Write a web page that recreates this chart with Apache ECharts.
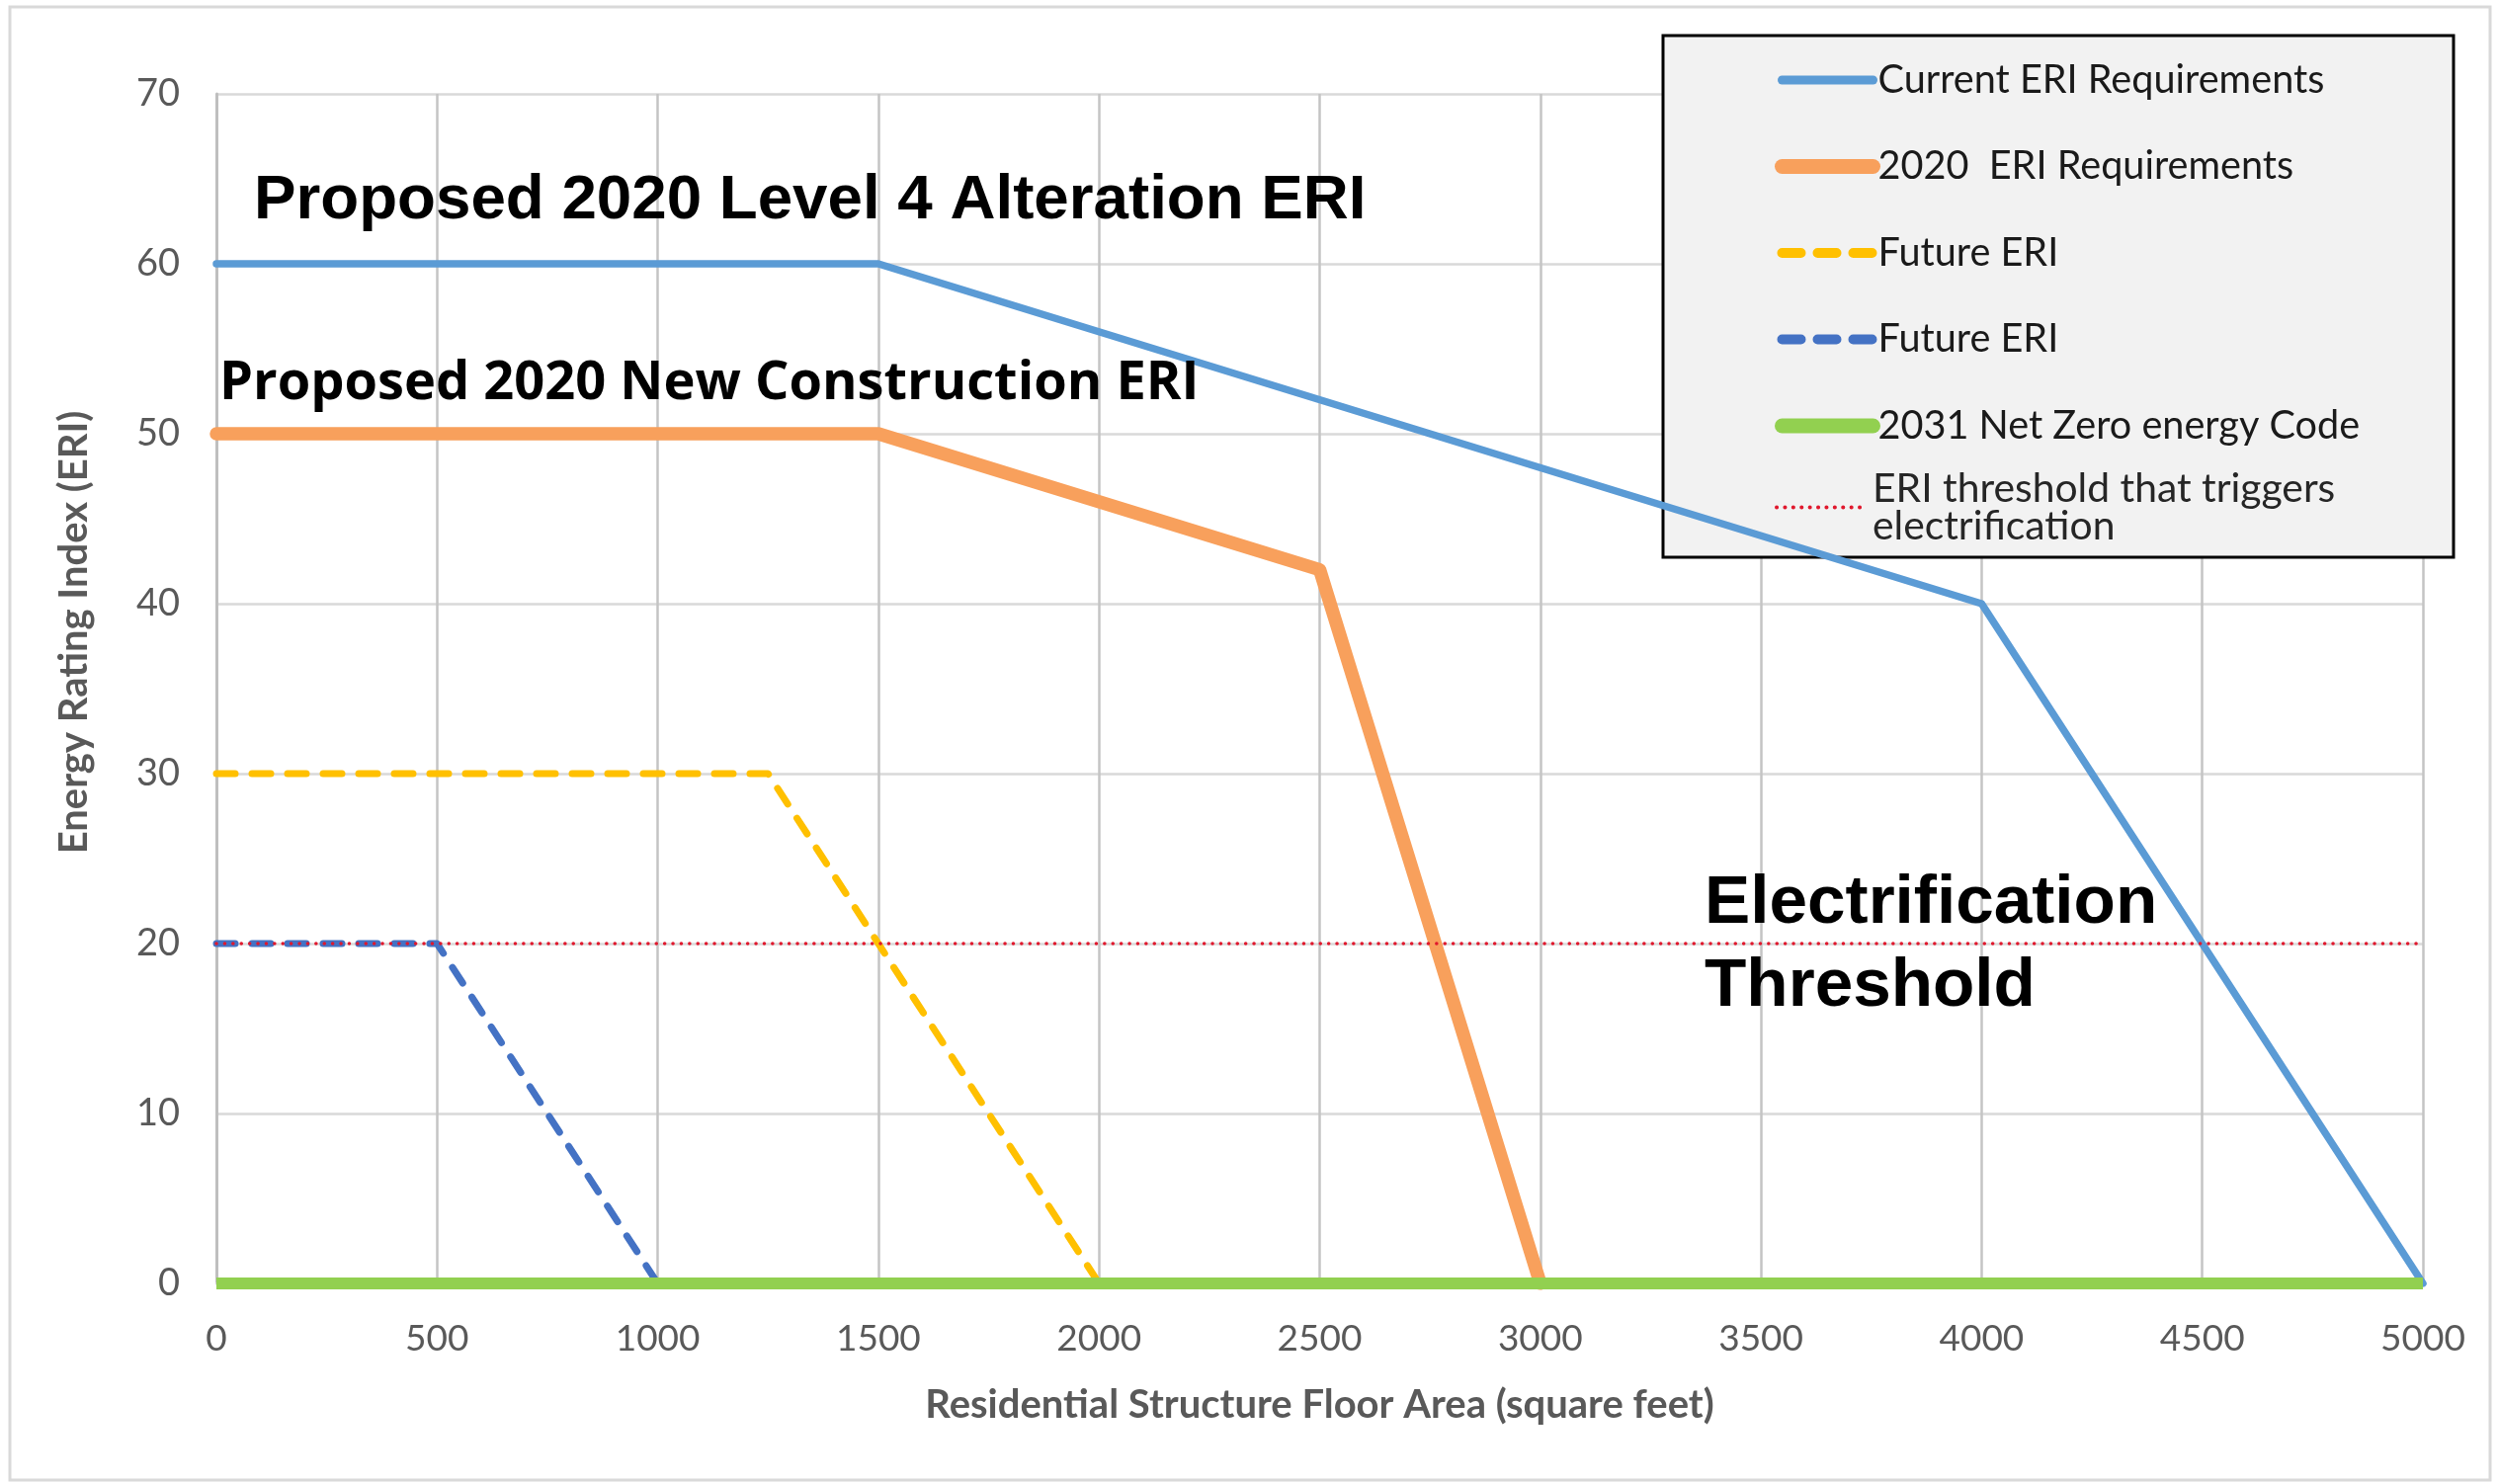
<!DOCTYPE html>
<html><head><meta charset="utf-8">
<script src="https://cdn.jsdelivr.net/npm/echarts@6/dist/echarts.min.js"></script>
<style>html,body{margin:0;padding:0;background:#fff}#c{width:2528px;height:1502px}</style>
</head><body><div id="c"></div>
<script>
// ---- data ----
const xTicks = [0, 500, 1000, 1500, 2000, 2500, 3000, 3500, 4000, 4500, 5000];
const yTicks = [0, 10, 20, 30, 40, 50, 60, 70];
const currentERI   = [[0, 60], [1500, 60], [4000, 40], [5000, 0]];
const eri2020      = [[0, 50], [1500, 50], [2500, 42], [3000, 0]];
const futureYellow = [[0, 30], [1250, 30], [2000, 0]];
const futureBlue   = [[0, 20], [500, 20], [1000, 0]];
const netZero2031  = [[0, 0], [5000, 0]];
const threshold    = [[0, 20], [5000, 20]];
const names = ['Current ERI Requirements', '2020  ERI Requirements', 'Future ERI', 'Future ERI ',
               '2031 Net Zero energy Code', 'ERI threshold that triggers\nelectrification'];
const annoTop = 'Proposed 2020 Level 4 Alteration ERI';
const annoMid = 'Proposed 2020 New Construction ERI';
const annoElec = ['Electrification', 'Threshold'];

function fitFont(text, weight, family, target) {
  const ctx = document.createElement('canvas').getContext('2d');
  ctx.font = weight + ' 100px ' + family;
  return 100 * target / ctx.measureText(text).width;
}
const ARIAL = '"Liberation Sans", Arial, sans-serif';
const LABEL = 'Lato, "Open Sans", sans-serif';
const fTop = fitFont(annoTop, 'bold', ARIAL, 1125);
const fMid = fitFont(annoMid, 'bold', '"Open Sans"', 992);
const fElec = fitFont(annoElec[0], 'bold', ARIAL, 458);
const fLeg = fitFont(names[0], 'normal', LABEL, 452);

const chart = echarts.init(document.getElementById('c'), null, {renderer: 'canvas'});
const legendText = {fontFamily: LABEL, fontSize: fLeg, lineHeight: 40, color: '#1a1a1a'};
chart.setOption({
  backgroundColor: '#ffffff',
  animation: false,
  grid: {left: 219, right: 76, top: 95, bottom: 203},
  xAxis: {
    type: 'value', min: xTicks[0], max: xTicks[xTicks.length - 1], interval: 500,
    name: 'Residential Structure Floor Area (square feet)', nameLocation: 'middle', nameGap: 103,
    nameTextStyle: {fontFamily: LABEL, fontWeight: 'bold', fontSize: 40, color: '#595959'},
    axisLine: {show: true, lineStyle: {color: '#D9D9D9', width: 2}},
    axisTick: {show: false},
    axisLabel: {margin: 38, fontFamily: LABEL, fontSize: 37, color: '#595959', formatter: v => String(v)},
    splitLine: {show: true, lineStyle: {color: '#C4C4C4', width: 2.5}}
  },
  yAxis: {
    type: 'value', min: yTicks[0], max: yTicks[yTicks.length - 1], interval: 10,
    name: 'Energy Rating Index (ERI)', nameLocation: 'middle', nameGap: 124, nameRotate: 90,
    nameTextStyle: {fontFamily: LABEL, fontWeight: 'bold', fontSize: 40, color: '#595959', padding: [0, 0, 0, 114]},
    axisLine: {show: true, lineStyle: {color: '#BFBFBF', width: 3}},
    axisTick: {show: false},
    axisLabel: {margin: 37, fontFamily: LABEL, fontSize: 38, color: '#595959'},
    splitLine: {show: true, lineStyle: {color: '#D9D9D9', width: 2.5}}
  },
  legend: [{
    orient: 'vertical', left: 1796, top: 61, padding: 0, itemWidth: 92, itemHeight: 14, itemGap: 47.5,
    selectedMode: false, textStyle: legendText, itemStyle: {opacity: 0},
    lineStyle: {cap: 'round'},
    data: [
      {name: names[0], lineStyle: {width: 9, cap: 'round'}},
      {name: names[1], lineStyle: {width: 15, cap: 'round'}},
      {name: names[2], lineStyle: {width: 10, cap: 'round'}},
      {name: names[3], lineStyle: {width: 10, cap: 'round'}},
      {name: names[4], lineStyle: {width: 15, cap: 'round'}}
    ]
  }, {
    orient: 'vertical', left: 1796, top: 474, padding: 0, itemWidth: 92, itemHeight: 14,
    selectedMode: false, textStyle: {fontFamily: LABEL, fontSize: fLeg * 1.03, lineHeight: 38, color: '#262626'},
    itemStyle: {opacity: 0},
    data: [{name: names[5], lineStyle: {width: 4}}]
  }],
  graphic: [
    {type: 'rect', shape: {x: 10, y: 7, width: 2510, height: 1491}, style: {fill: 'none', stroke: '#D9D9D9', lineWidth: 3}, z: 1, silent: true},
    {type: 'rect', shape: {x: 1683, y: 36, width: 800, height: 528}, style: {fill: '#F2F2F2', stroke: '#000000', lineWidth: 3}, z: 3, silent: true},
    {type: 'text', x: 257, y: 203, z: 10, style: {text: annoTop, font: 'bold ' + fTop.toFixed(1) + 'px ' + ARIAL, fill: '#000', align: 'left', verticalAlign: 'middle'}},
    {type: 'text', x: 222, y: 389, z: 10, style: {text: annoMid, font: 'bold ' + fMid.toFixed(1) + 'px "Open Sans"', fill: '#000', align: 'left', verticalAlign: 'middle'}},
    {type: 'text', x: 1725, y: 915, z: 10, style: {text: annoElec[0], font: 'bold ' + fElec.toFixed(1) + 'px ' + ARIAL, fill: '#000', align: 'left', verticalAlign: 'middle'}},
    {type: 'text', x: 1725, y: 999, z: 10, style: {text: annoElec[1], font: 'bold ' + fElec.toFixed(1) + 'px ' + ARIAL, fill: '#000', align: 'left', verticalAlign: 'middle'}}
  ],
  series: [
    {name: names[0], type: 'line', data: currentERI, symbol: 'none', lineStyle: {color: '#5B9BD5', width: 7.5, join: 'round', cap: 'round'}, itemStyle: {color: '#5B9BD5'}},
    {name: names[1], type: 'line', data: eri2020, symbol: 'none', lineStyle: {color: '#F8A05C', width: 13.5, join: 'round', cap: 'round'}, itemStyle: {color: '#F8A05C'}},
    {name: names[2], type: 'line', data: futureYellow, symbol: 'none', lineStyle: {color: '#FFC000', width: 7, type: [19, 17], cap: 'round', join: 'round'}, itemStyle: {color: '#FFC000'}},
    {name: names[3], type: 'line', data: futureBlue, symbol: 'none', lineStyle: {color: '#4472C4', width: 7, type: [19, 17], cap: 'round', join: 'round'}, itemStyle: {color: '#4472C4'}},
    {name: names[4], type: 'line', data: netZero2031, symbol: 'none', lineStyle: {color: '#92D050', width: 12}, itemStyle: {color: '#92D050'}},
    {name: names[5], type: 'line', data: threshold, symbol: 'none', lineStyle: {color: '#E0182D', width: 3.5, type: [0.1, 8.3], cap: 'round'}, itemStyle: {color: '#E0182D'}}
  ]
});
</script></body></html>
